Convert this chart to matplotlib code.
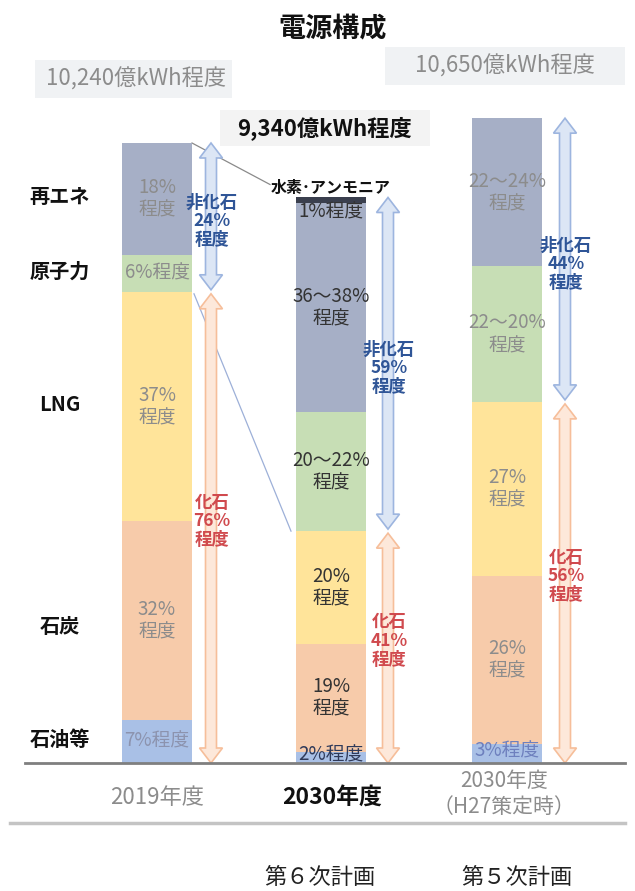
import matplotlib
matplotlib.use("Agg")
import matplotlib.pyplot as plt
from matplotlib.patches import Polygon, Rectangle

plt.rcParams['font.family'] = ['Noto Sans CJK JP', 'DejaVu Sans']

# ---- data -------------------------------------------------------------
years = ["2019年度", "2030年度", "2030年度\n（H27策定時）"]
plans = ["", "第６次計画", "第５次計画"]
totals = [10240, 9340, 10650]            # 億kWh
total_labels = ["10,240億kWh程度", "9,340億kWh程度", "10,650億kWh程度"]

# stacked bottom -> top
sources = ["石油等", "石炭", "LNG", "原子力", "再エネ", "水素･アンモニア"]
shares = [
    [7, 32, 37, 6, 18, 0],     # 2019
    [2, 19, 20, 21, 37, 1],    # 2030 (6th plan)
    [3, 26, 27, 21, 23, 0],    # 2030 (5th plan)
]
share_labels = [
    ["7%程度", "32%\n程度", "37%\n程度", "6%程度", "18%\n程度", ""],
    ["2%程度", "19%\n程度", "20%\n程度", "20～22%\n程度", "36～38%\n程度", "1%程度"],
    ["3%程度", "26%\n程度", "27%\n程度", "22～20%\n程度", "22～24%\n程度", ""],
]
fossil_pct = [76, 41, 56]
nonfossil_pct = [24, 59, 44]

# ---- style ------------------------------------------------------------
colors = ["#A9C0E6", "#F7CBAA", "#FFE49A", "#C7DEB5", "#A6AFC6", "#3A3F4E"]
seg_text_colors = [
    ["#8C93AE", "#8C8C8C", "#8C8C8C", "#8C8C8C", "#8C8C8C", "#8C8C8C"],
    ["#2F3A5A", "#333333", "#333333", "#333333", "#333333", "#333333"],
    ["#6E80BE", "#8C8C8C", "#8C8C8C", "#8C8C8C", "#8C8C8C", "#8C8C8C"],
]
W, H = 635, 891
BASE = 763                     # pixel row of the baseline
PX = totals[0] / 620.0         # 億kWh per pixel row

fig = plt.figure(figsize=(W / 100, H / 100), dpi=100)
ax = fig.add_axes([0, 0, 1, 1])
ax.set_xlim(0, W)
ax.set_ylim(-(H - BASE) * PX, BASE * PX)
ax.axis("off")


def Y(row):
    return (BASE - row) * PX


bar_x = [157, 331, 507]
bar_w = 70
arrow_x = [211, 388, 565]

# ---- stacked bars -------------------------------------------------------
for i, (xc, tot, sh) in enumerate(zip(bar_x, totals, shares)):
    bottom = 0.0
    for j, p in enumerate(sh):
        h = tot * p / 100.0
        if h > 0:
            ax.bar(xc, h, width=bar_w, bottom=bottom, color=colors[j],
                   edgecolor="none", zorder=2)
        lab = share_labels[i][j]
        if lab:
            if sources[j] == "水素･アンモニア":
                ty = bottom - 9 * PX
            elif p <= 3:
                ty = bottom + h / 2 + 2 * PX
            else:
                ty = bottom + h / 2
            ax.text(xc, ty, lab, ha="center", va="center", fontsize=13.5,
                    color=seg_text_colors[i][j], linespacing=1.1, zorder=4)
        bottom += h

# hydrogen / ammonia caption on the 2030 bar
ax.text(bar_x[1], totals[1] + 10 * PX, "水素･アンモニア", ha="center",
        va="center", fontsize=11.5, fontweight="bold", color="#111111", zorder=5)

# category names at the left, aligned with the 2019 bar
bottom = 0.0
for j, p in enumerate(shares[0]):
    h = totals[0] * p / 100.0
    if h > 0:
        off = -8 * PX if sources[j] == "石炭" else 0
        ax.text(60, bottom + h / 2 + off + 2 * PX, sources[j], ha="center",
                va="center", fontsize=14.5, fontweight="bold", color="#111111")
    bottom += h


# ---- double-headed block arrows ---------------------------------------
def double_arrow(xc, y0, y1, fc, ec):
    sw, hw, hl = 5.5, 11.5, 15 * PX
    pts = [(xc, y1), (xc + hw, y1 - hl), (xc + sw, y1 - hl), (xc + sw, y0 + hl),
           (xc + hw, y0 + hl), (xc, y0), (xc - hw, y0 + hl), (xc - sw, y0 + hl),
           (xc - sw, y1 - hl), (xc - hw, y1 - hl)]
    ax.add_patch(Polygon(pts, closed=True, facecolor=fc, edgecolor=ec,
                         linewidth=1.2, zorder=3))


for xc, tot, fp, nfp in zip(arrow_x, totals, fossil_pct, nonfossil_pct):
    split = tot * fp / 100.0
    double_arrow(xc, split + 2 * PX, tot, "#DCE6F5", "#9DB5DF")
    double_arrow(xc, 0, split - 2 * PX, "#FDE8DA", "#F6BE9A")
    ax.text(xc + 1, (split + tot) / 2 - 4 * PX, f"非化石\n{nfp}%\n程度",
            ha="center", va="center", fontsize=12.5, fontweight="bold",
            color="#2F5597", linespacing=1.05, zorder=5)
    ax.text(xc + 1, split / 2 + 6 * PX, f"化石\n{fp}%\n程度", ha="center",
            va="center", fontsize=12.5, fontweight="bold", color="#D04A4E",
            linespacing=1.05, zorder=5)

# ---- connector lines between 2019 and 2030 bars ------------------------
x_r = bar_x[0] + bar_w / 2
x_l = bar_x[1] - bar_w / 2
ax.plot([x_r, x_l - 26], [totals[0], totals[1] + 13 * PX], color="#8A8A8A",
        lw=0.9, zorder=1)
ax.plot([x_r + 2, x_l - 5], [totals[0] * fossil_pct[0] / 100 - 2 * PX,
                             totals[1] * fossil_pct[1] / 100],
        color="#9DB0D8", lw=0.9, zorder=1)

# ---- baseline and frame lines ------------------------------------------
ax.plot([25, 625], [0, 0], color="#7F7F7F", lw=2, zorder=6)
ax.plot([10, 625], [Y(823), Y(823)], color="#C4C4C4", lw=2.5, zorder=1)

# ---- totals in shaded boxes --------------------------------------------
boxes = [(35, 60, 232, 98), (220, 110, 430, 146), (385, 47, 625, 85)]
for k, (x0, r0, x1, r1) in enumerate(boxes):
    ax.add_patch(Rectangle((x0, Y(r1)), x1 - x0, Y(r0) - Y(r1),
                           facecolor="#F0F2F4" if k != 1 else "#F3F3F3",
                           edgecolor="none", zorder=1))
    bold = (k == 1)
    ax.text((x0 + x1) / 2 + (0 if k != 0 else 3), Y((r0 + r1) / 2),
            total_labels[k], ha="center", va="center", fontsize=16,
            fontweight="bold" if bold else "normal",
            color="#111111" if bold else "#8C8C8C", zorder=2)

# ---- title, year labels, plan labels -----------------------------------
ax.text(333, Y(28), "電源構成", ha="center", va="center", fontsize=19.5,
        fontweight="bold", color="#111111")

ax.text(bar_x[0], Y(797), years[0], ha="center", va="center",
        fontsize=16, color="#8C8C8C")
ax.text(bar_x[1] + 1, Y(797), years[1], ha="center", va="center",
        fontsize=16.5, fontweight="bold", color="#111111")
ax.text(bar_x[2] - 3, Y(794), years[2], ha="center", va="center",
        fontsize=15, color="#8C8C8C", linespacing=1.2)

for xc, p in zip([bar_x[0], 320, 517], plans):
    if p:
        ax.text(xc, Y(877), p, ha="center", va="center", fontsize=16,
                color="#222222")

fig.savefig("out.png", dpi=100)
